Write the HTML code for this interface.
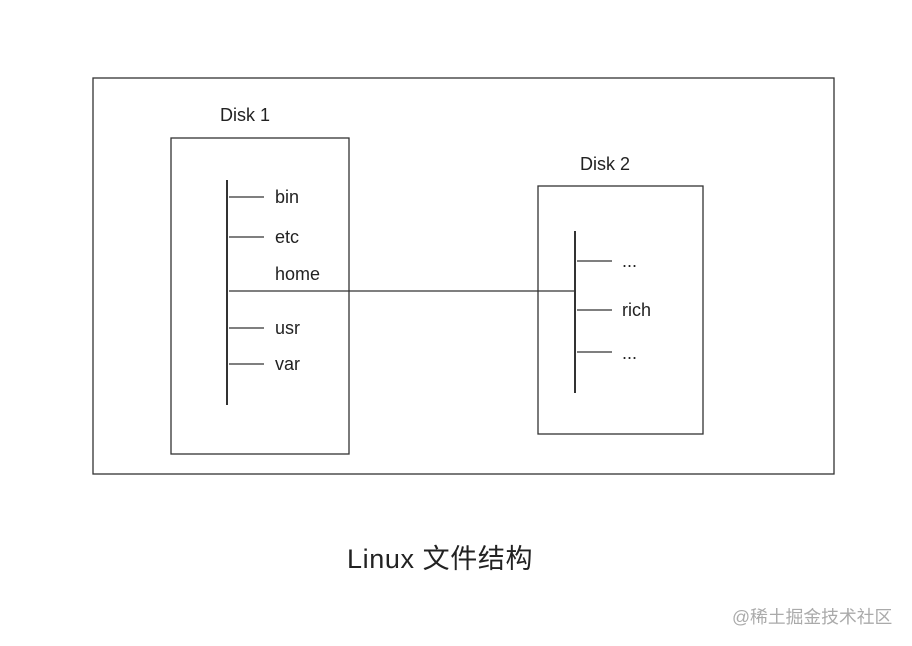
<!DOCTYPE html>
<html><head><meta charset="utf-8"><style>
html,body{margin:0;padding:0;background:#fff;width:912px;height:646px;overflow:hidden}
svg{display:block}
text{font-family:"Liberation Sans","Noto Sans CJK SC",sans-serif;fill:#222}
</style></head><body>
<svg width="912" height="646" viewBox="0 0 912 646">
<g stroke="#333" stroke-width="1.3" fill="none">
<rect x="93" y="78" width="741" height="396"/>
<rect x="171" y="138" width="178" height="316"/>
<rect x="538" y="186" width="165" height="248"/>
<line x1="227" y1="180" x2="227" y2="405" stroke-width="2"/>
<line x1="229" y1="197" x2="264" y2="197"/>
<line x1="229" y1="237" x2="264" y2="237"/>
<line x1="229" y1="291" x2="575" y2="291"/>
<line x1="229" y1="328" x2="264" y2="328"/>
<line x1="229" y1="364" x2="264" y2="364"/>
<line x1="575" y1="231" x2="575" y2="393" stroke-width="2"/>
<line x1="577" y1="261" x2="612" y2="261"/>
<line x1="577" y1="310" x2="612" y2="310"/>
<line x1="577" y1="352" x2="612" y2="352"/>
</g>
<g font-size="18">
<text x="220" y="121">Disk 1</text>
<text x="580" y="170">Disk 2</text>
<text x="275" y="203">bin</text>
<text x="275" y="243">etc</text>
<text x="275" y="280">home</text>
<text x="275" y="334">usr</text>
<text x="275" y="370">var</text>
<text x="622" y="267">...</text>
<text x="622" y="316">rich</text>
<text x="622" y="359">...</text>
</g>
<text x="347" y="568" font-size="27" letter-spacing="0.6">Linux 文件结构</text>
<text x="732" y="623" font-size="17.8" style="fill:#aaa">@稀土掘金技术社区</text>
</svg>
</body></html>
